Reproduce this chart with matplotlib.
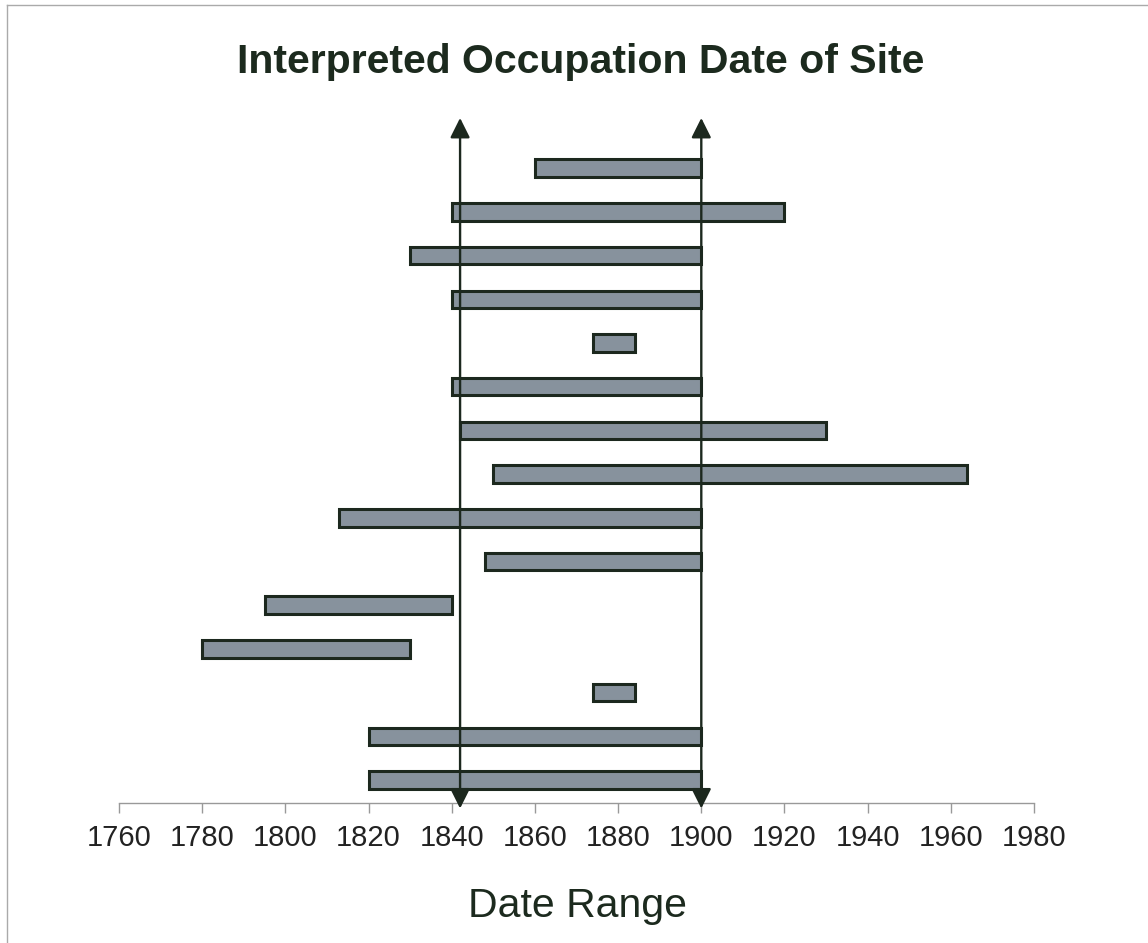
import matplotlib
matplotlib.use("Agg")
import matplotlib.pyplot as plt
from matplotlib.lines import Line2D

# date ranges, top bar first
starts = [1860, 1840, 1830, 1840, 1874, 1840, 1842, 1850, 1813, 1848, 1795, 1780, 1874, 1820, 1820]
ends   = [1900, 1920, 1900, 1900, 1884, 1900, 1930, 1964, 1900, 1900, 1840, 1830, 1884, 1900, 1900]
arrow_years = [1842, 1900]
xticks = list(range(1760, 1981, 20))

plt.rcParams['font.family'] = ['Liberation Sans', 'DejaVu Sans']

fig = plt.figure(figsize=(11.48, 9.43), dpi=100)
ax = fig.add_axes([0.1037, 0.1485, 0.797, 0.7264])

n = len(starts)
ypos = [n - 1 - i for i in range(n)]
widths = [e - s for s, e in zip(starts, ends)]
ax.barh(ypos, widths, left=starts, height=0.40, color='#87929d',
        edgecolor='#1c281e', linewidth=2.2, zorder=2)

# double headed arrows marking the occupation window
tr = ax.get_xaxis_transform()
for yr in arrow_years:
    ax.annotate('', xy=(yr, 1.0), xycoords=tr, xytext=(yr, -0.008), textcoords=tr,
                arrowprops=dict(arrowstyle='<|-|>', color='#1c281e', lw=1.7,
                                mutation_scale=30, shrinkA=0, shrinkB=0),
                annotation_clip=False, zorder=3)

ax.set_xlim(1760, 1980)
ax.set_ylim(-0.526, 15.15)
ax.set_xticks(xticks)
ax.set_yticks([])
for s in ['top', 'right', 'left']:
    ax.spines[s].set_visible(False)
ax.spines['bottom'].set_color('#999999')
ax.spines['bottom'].set_linewidth(1.0)
ax.tick_params(axis='x', length=7, width=1.0, color='#999999', pad=8,
               labelsize=21, labelcolor='#222222')

fig.text(581 / 1148, 1 - 73 / 943, 'Interpreted Occupation Date of Site',
         ha='center', va='baseline', fontsize=29.5, fontweight='bold', color='#1c2a1e')
fig.text(577 / 1148, 1 - 917 / 943, 'Date Range',
         ha='center', va='baseline', fontsize=29.5, color='#1c2a1e')

# thin frame visible at top and left of the scan
fig.add_artist(Line2D([7 / 1148, 7 / 1148], [0, 1 - 5 / 943], transform=fig.transFigure,
                      color='#aaaaaa', lw=1))
fig.add_artist(Line2D([7 / 1148, 1], [1 - 5 / 943, 1 - 5 / 943], transform=fig.transFigure,
                      color='#aaaaaa', lw=1))

fig.savefig('out.png', dpi=100)
